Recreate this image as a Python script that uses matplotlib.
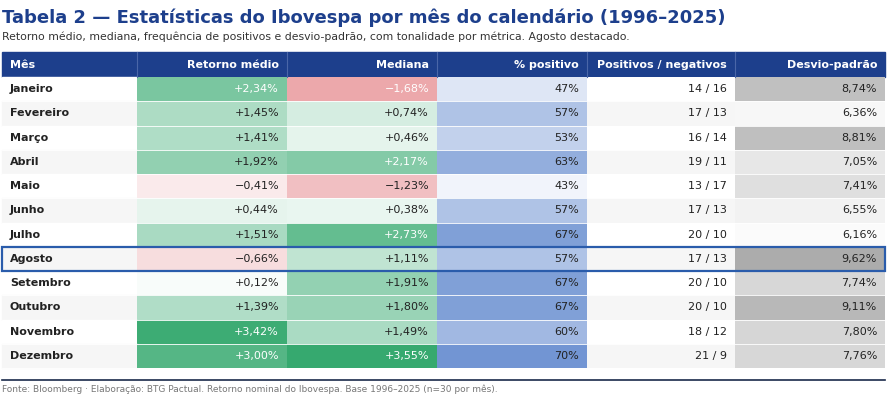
import numpy as np
import matplotlib.pyplot as plt
from matplotlib.patches import Rectangle

meses = ["Janeiro", "Fevereiro", "Março", "Abril", "Maio", "Junho", "Julho",
         "Agosto", "Setembro", "Outubro", "Novembro", "Dezembro"]
retorno = [2.34, 1.45, 1.41, 1.92, -0.41, 0.44, 1.51, -0.66, 0.12, 1.39, 3.42, 3.00]
mediana = [-1.68, 0.74, 0.46, 2.17, -1.23, 0.38, 2.73, 1.11, 1.91, 1.80, 1.49, 3.55]
pct_pos = [47, 57, 53, 63, 43, 57, 67, 57, 67, 67, 60, 70]
positivos = [14, 17, 16, 19, 13, 17, 20, 17, 20, 20, 18, 21]
negativos = [16, 13, 14, 11, 17, 13, 10, 13, 10, 10, 12, 9]
desvio = [8.74, 6.36, 8.81, 7.05, 7.41, 6.55, 6.16, 9.62, 7.74, 9.11, 7.80, 7.76]
headers = ["Mês", "Retorno médio", "Mediana", "% positivo", "Positivos / negativos", "Desvio-padrão"]

col_x = [2, 137, 287, 437, 587, 735, 885]
head_top, head_bot = 52, 77
row_h = (368 - 77) / 12
navy = "#1d3f8c"


def fmt(v):
    s = f"{abs(v):.2f}%".replace(".", ",")
    return ("+" if v >= 0 else "\u2212") + s


def mix(c, t):
    t = min(max(t, 0), 1)
    c = np.array(c) / 255
    return tuple(1 - (1 - c) * t)


def ret_color(v):
    if v >= 0:
        t = v / 3.7
        return mix((45, 165, 105), t), t
    t = abs(v) / 2.6
    return mix((225, 120, 125), t), t


fig = plt.figure(figsize=(8.96, 4.03), dpi=100)
ax = fig.add_axes([0, 0, 1, 1])
ax.set_xlim(0, 896)
ax.set_ylim(403, 0)
ax.axis("off")

ax.text(2, 18, "Tabela 2 — Estatísticas do Ibovespa por mês do calendário (1996–2025)",
        fontsize=13, fontweight="bold", color=navy, va="center")
ax.text(2, 37, "Retorno médio, mediana, frequência de positivos e desvio-padrão, com tonalidade por métrica. Agosto destacado.",
        fontsize=7.8, color="#333333", va="center")

ax.add_patch(Rectangle((col_x[0], head_top), col_x[-1] - col_x[0], head_bot - head_top, color=navy))
for j, h in enumerate(headers):
    if j == 0:
        ax.text(col_x[0] + 8, (head_top + head_bot) / 2, h, color="white", fontsize=8, fontweight="bold", va="center")
    else:
        ax.text(col_x[j + 1] - 8, (head_top + head_bot) / 2, h, color="white", fontsize=8, fontweight="bold",
                va="center", ha="right")
for x in col_x[1:-1]:
    ax.plot([x, x], [head_top, head_bot], color="#4a66a8", lw=0.8)

for i, m in enumerate(meses):
    y0 = head_bot + i * row_h
    yc = y0 + row_h / 2
    base = "#f6f6f6" if i % 2 else "white"
    cells = []
    c, t = ret_color(retorno[i]); cells.append((c, t, fmt(retorno[i])))
    c, t = ret_color(mediana[i]); cells.append((c, t, fmt(mediana[i])))
    t = (pct_pos[i] - 40) / 34
    cells.append((mix((95, 135, 205), t), t, f"{pct_pos[i]}%"))
    cells.append((base, 0, f"{positivos[i]} / {negativos[i]}"))
    t = (desvio[i] - 6.0) / 4.6
    cells.append((mix((150, 150, 150), t), t, fmt(desvio[i])[1:]))

    ax.add_patch(Rectangle((col_x[0], y0), col_x[1] - col_x[0], row_h, color=base))
    ax.text(col_x[0] + 8, yc, m, fontsize=8, fontweight="bold", color="#222222", va="center")
    for j, (c, t, s) in enumerate(cells):
        ax.add_patch(Rectangle((col_x[j + 1], y0), col_x[j + 2] - col_x[j + 1], row_h, color=c, lw=0))
        tc = "white" if (j < 2 and t > 0.55) else "#222222"
        ax.text(col_x[j + 2] - 8, yc, s, fontsize=8, color=tc, va="center", ha="right")
    ax.plot([col_x[0], col_x[-1]], [y0 + row_h, y0 + row_h], color="white", lw=0.6)

ia = meses.index("Agosto")
ax.add_patch(Rectangle((col_x[0], head_bot + ia * row_h), col_x[-1] - col_x[0], row_h,
                       fill=False, edgecolor="#2a5cab", lw=1.6, zorder=5))

ax.plot([2, 885], [380, 380], color="#1a2a4a", lw=1.2)
ax.text(2, 389, "Fonte: Bloomberg · Elaboração: BTG Pactual. Retorno nominal do Ibovespa. Base 1996–2025 (n=30 por mês).",
        fontsize=6.5, color="#777777", va="center")

fig.savefig("out.png", dpi=100)
